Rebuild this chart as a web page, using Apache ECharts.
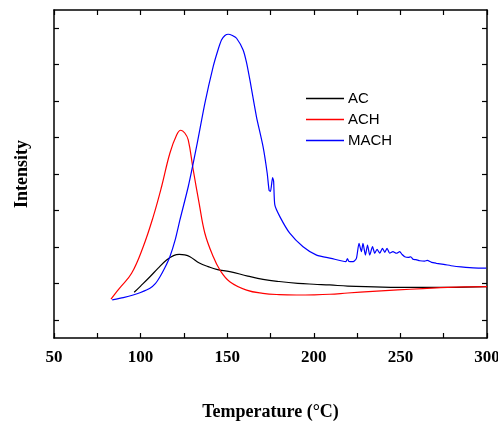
<!DOCTYPE html>
<html><head><meta charset="utf-8">
<script src="https://cdn.jsdelivr.net/npm/echarts@6/dist/echarts.min.js"></script>
<style>html,body{margin:0;padding:0;background:#fff}#c{width:498px;height:423px}</style>
</head><body><div id="c"></div>
<script>
const xTicks = [50, 100, 150, 200, 250, 300];
const yTicks = [1, 3, 5, 7, 9, 11, 13, 15, 17];
const seriesNames = ['AC', 'ACH', 'MACH'];
const acData = [[96.3,2.51],[100,2.85],[105.4,3.36],[110,3.82],[115,4.28],[119,4.52],[122.3,4.59],[125.5,4.56],[128.5,4.46],[134.2,4.10],[139,3.92],[143.9,3.77],[151.5,3.64],[161.9,3.40],[170.7,3.22],[180,3.10],[190.8,3.00],[200,2.95],[209.2,2.91],[219.6,2.85],[235,2.81],[248.5,2.78],[262,2.78],[277.3,2.78],[300,2.82]];
const achData = [[82.9,2.14],[88,2.75],[94.8,3.55],[101.5,5.01],[107.3,6.66],[112.1,8.30],[116.9,10.14],[120.8,11.14],[123.2,11.40],[125.5,11.25],[127.5,10.87],[130.4,9.22],[133.8,7.39],[137.1,5.75],[141.9,4.47],[145.8,3.73],[151.5,3.09],[161.2,2.63],[170.6,2.45],[180,2.38],[190,2.36],[200,2.37],[209.2,2.40],[219.6,2.47],[234,2.56],[248.5,2.64],[263,2.71],[277.3,2.78],[290,2.81],[300,2.82]];
const machData = [[83.6,2.09],[90,2.22],[95.7,2.36],[100,2.5],[105.4,2.73],[108.5,2.98],[111.2,3.36],[114,3.85],[116.9,4.46],[120,5.4],[122.7,6.48],[127.5,8.30],[132.3,10.50],[137.1,12.88],[141.9,14.89],[144.5,15.75],[146.7,16.35],[148.7,16.6],[150.6,16.67],[153,16.6],[155.4,16.45],[159.2,15.81],[161.2,15.1],[163.1,14.16],[166.9,12.14],[170.7,10.50],[173.1,9.04],[174.2,8.1],[175,8.05],[176.2,8.8],[176.8,8.6],[177.5,7.30],[180.4,6.66],[186.1,5.75],[193.8,5.01],[201.6,4.55],[210,4.37],[218.5,4.19],[219.4,4.36],[220.3,4.2],[222.7,4.19],[224.6,4.37],[226.1,5.20],[227.5,4.74],[228.4,5.20],[229.8,4.55],[231,5.10],[232.3,4.55],[233.9,5.01],[235.2,4.65],[236.5,4.87],[238.1,4.65],[239.6,4.92],[241,4.70],[242.3,4.92],[243.8,4.65],[245.7,4.74],[247.7,4.65],[249.6,4.74],[251,4.58],[252.5,4.46],[254.5,4.42],[256,4.46],[257.3,4.32],[259,4.3],[261.2,4.24],[264,4.22],[265.5,4.26],[268,4.15],[270.8,4.10],[275,4.04],[280.4,3.95],[285,3.9],[290,3.86],[295,3.84],[299.6,3.83]];

const serif = '"Liberation Serif","Times New Roman",serif';
const chart = echarts.init(document.getElementById('c'));
const axLine = {show:true, onZero:false, lineStyle:{color:'#000', width:1.5}};
chart.setOption({
  animation:false,
  backgroundColor:'#fff',
  grid:{left:54, right:11, top:10, bottom:85, containLabel:false, outerBoundsMode:'none'},
  legend:{
    orient:'vertical', left:301, top:86,
    icon:'rect', itemWidth:38, itemHeight:1.5, itemGap:6,
    textStyle:{fontFamily:'"Liberation Sans",Arial,sans-serif', fontSize:15, color:'#000', padding:[0,0,0,-1]},
    data: seriesNames
  },
  xAxis:[{
    type:'value', min:xTicks[0], max:xTicks[xTicks.length-1], interval:50,
    axisLine:axLine,
    axisTick:{show:true, inside:true, length:5, lineStyle:{color:'#000', width:1.2}},
    minorTick:{show:true, splitNumber:2, length:5, lineStyle:{color:'#000', width:1.2}},
    axisLabel:{fontFamily:serif, fontWeight:'bold', fontSize:17, color:'#000', margin:11},
    splitLine:{show:false},
    name:'Temperature (°C)', nameLocation:'middle', nameGap:65,
    nameTextStyle:{fontFamily:serif, fontWeight:'bold', fontSize:18, color:'#000'}
  },{
    type:'value', position:'top', min:50, max:300, interval:50,
    axisLine:axLine,
    axisTick:{show:true, inside:true, length:5, lineStyle:{color:'#000', width:1.2}},
    minorTick:{show:true, splitNumber:2, length:5, lineStyle:{color:'#000', width:1.2}},
    axisLabel:{show:false}, splitLine:{show:false}
  }],
  yAxis:[{
    type:'value', min:0, max:18,
    axisLine:axLine,
    axisTick:{show:true, inside:true, length:5, customValues:yTicks, lineStyle:{color:'#000', width:1.2}},
    axisLabel:{show:false}, splitLine:{show:false},
    name:'Intensity', nameLocation:'middle', nameGap:23,
    nameTextStyle:{fontFamily:serif, fontWeight:'bold', fontSize:18, color:'#000'}
  },{
    type:'value', min:0, max:18, position:'right',
    axisLine:axLine,
    axisTick:{show:true, inside:true, length:5, customValues:yTicks, lineStyle:{color:'#000', width:1.2}},
    axisLabel:{show:false}, splitLine:{show:false}
  }],
  series:[
    {name:seriesNames[0], type:'line', data:acData, symbol:'none', smooth:0.4, lineStyle:{color:'#000', width:1.2}, itemStyle:{color:'#000'}},
    {name:seriesNames[1], type:'line', data:achData, symbol:'none', smooth:0.4, lineStyle:{color:'#ff0000', width:1.2}, itemStyle:{color:'#ff0000'}},
    {name:seriesNames[2], type:'line', data:machData, symbol:'none', smooth:0.2, lineStyle:{color:'#0000ff', width:1.2}, itemStyle:{color:'#0000ff'}}
  ]
});
</script></body></html>
